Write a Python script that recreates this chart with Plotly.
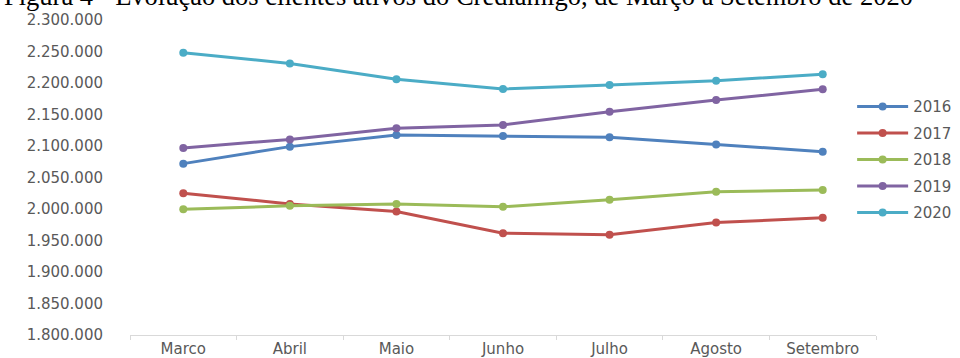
import plotly.graph_objects as go

# Active Crediamigo clients, March to September, by year
meses = ["Marco", "Abril", "Maio", "Junho", "Julho", "Agosto", "Setembro"]

clientes_2016 = [2072000, 2099000, 2117500, 2116000, 2114000, 2102500, 2091000]
clientes_2017 = [2025000, 2008000, 1996000, 1961500, 1959000, 1978500, 1986000]
clientes_2018 = [1999500, 2005000, 2008000, 2003500, 2014500, 2027500, 2030000]
clientes_2019 = [2097000, 2110500, 2128000, 2133500, 2154500, 2173000, 2190000]
clientes_2020 = [2248000, 2231000, 2206000, 2190500, 2197000, 2203500, 2214000]

series = [
    ("2016", clientes_2016, "#4F81BD"),
    ("2017", clientes_2017, "#C0504D"),
    ("2018", clientes_2018, "#9BBB59"),
    ("2019", clientes_2019, "#8064A2"),
    ("2020", clientes_2020, "#4BACC6"),
]

titulo = "Figura 4 - Evolução dos clientes ativos do Crediamigo, de Março a Setembro de 2020"

fig = go.Figure()
for nome, valores, cor in series:
    fig.add_trace(go.Scatter(
        x=meses, y=valores, name=nome, legendgroup=nome,
        mode="lines+markers",
        line=dict(color=cor, width=3),
        marker=dict(color=cor, size=8),
    ))

label_font = dict(family="DejaVu Sans", size=15, color="#595959")

fig.update_layout(
    width=960, height=358,
    margin=dict(l=130, r=84, t=20, b=23, autoexpand=False),
    paper_bgcolor="white", plot_bgcolor="white",
    separators=",.",
    showlegend=True,
    legend=dict(
        x=0.968, xanchor="left", y=0.556, yanchor="middle",
        font=label_font, traceorder="grouped", tracegroupgap=4,
        itemwidth=51,
        bgcolor="rgba(0,0,0,0)",
    ),
    xaxis=dict(
        type="category", range=[-0.5, 6.5],
        showgrid=False, zeroline=False,
        showline=True, linecolor="#D9D9D9", linewidth=1,
        ticks="outside", tickson="boundaries", ticklen=4, tickcolor="#D9D9D9",
        tickfont=label_font, automargin=False,
    ),
    yaxis=dict(
        range=[1800000, 2300000], dtick=50000, tickformat=",d",
        showgrid=False, zeroline=False, showline=False,
        ticks="", ticklabelstandoff=26,
        tickfont=label_font, automargin=False,
    ),
    annotations=[dict(
        text=titulo, xref="paper", yref="paper",
        x=-0.172, xanchor="left", y=1.022, yanchor="bottom",
        showarrow=False,
        font=dict(family="Liberation Serif", size=26.5, color="black"),
    )],
)

fig.write_html("out.html")
